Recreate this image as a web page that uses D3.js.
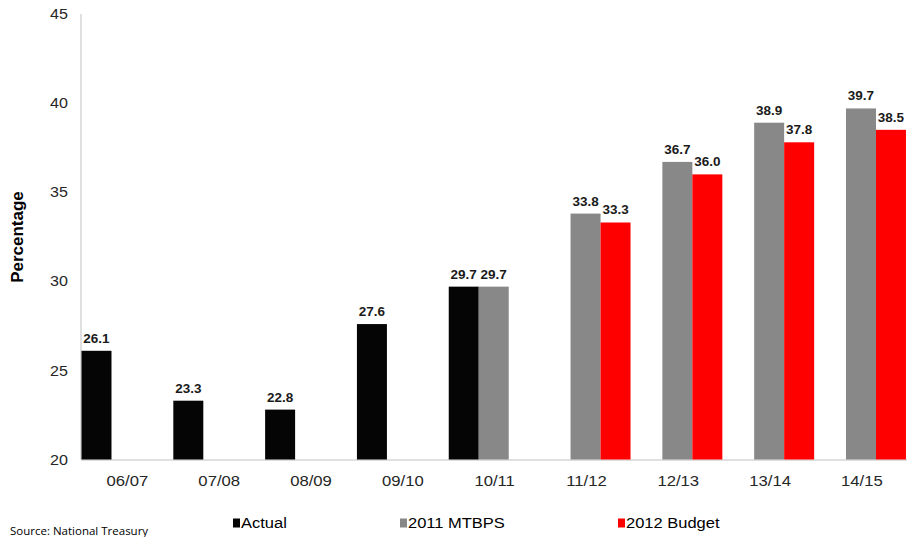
<!DOCTYPE html>
<html>
<head>
<meta charset="utf-8">
<script src="https://cdn.jsdelivr.net/npm/d3@7"></script>
<style>
  html, body { margin: 0; padding: 0; background: #ffffff; }
  svg { display: block; }
</style>
</head>
<body>
<svg id="chart" width="907" height="537"></svg>
<script>
// Fiscal years on the category axis
const categories = ["06/07", "07/08", "08/09", "09/10", "10/11", "11/12", "12/13", "13/14", "14/15"];

// Debt as a percentage of GDP, per series (null = no bar)
const actualValues = [26.1, 23.3, 22.8, 27.6, 29.7, null, null, null, null];
const mtbpsValues  = [null, null, null, null, 29.7, 33.8, 36.7, 38.9, 39.7];
const budgetValues = [null, null, null, null, null, 33.3, 36.0, 37.8, 38.5];

const seriesNames = ["Actual", "2011 MTBPS", "2012 Budget"];
const seriesColors = ["#050505", "#888888", "#ff0000"];
const seriesValues = [actualValues, mtbpsValues, budgetValues];

const yTicks = [20, 25, 30, 35, 40, 45];

const svg = d3.select("#chart");
const font = "'Liberation Sans', Arial, sans-serif";
const stretch = 1.15; // text is drawn slightly wide

const x = d3.scaleBand().domain(categories).range([81.5, 907.8]).paddingInner(0).paddingOuter(0);
const xs = d3.scaleBand().domain(seriesNames).range([0, x.bandwidth() * 0.98]).padding(0);
const y = d3.scaleLinear().domain([20, 45]).range([459.5, 14]);

// Axis lines
svg.append("line")
  .attr("x1", 81).attr("x2", 81)
  .attr("y1", y(45)).attr("y2", y(20))
  .attr("stroke", "#c0c0c0").attr("stroke-width", 1);
svg.append("line")
  .attr("x1", 81).attr("x2", 907)
  .attr("y1", y(20) + 0.5).attr("y2", y(20) + 0.5)
  .attr("stroke", "#c0c0c0").attr("stroke-width", 1);

// Y tick labels
svg.append("g").selectAll("text").data(yTicks).join("text")
  .attr("transform", d => `translate(68,${y(d)}) scale(${stretch},1)`)
  .attr("text-anchor", "end")
  .attr("dominant-baseline", "central")
  .attr("font-family", font).attr("font-size", 14)
  .attr("fill", "#262626")
  .text(d => d);

// Y axis title
svg.append("text")
  .attr("transform", "translate(23,237) rotate(-90)")
  .attr("text-anchor", "middle")
  .attr("font-family", font).attr("font-size", 17).attr("font-weight", "bold")
  .attr("fill", "#000")
  .text("Percentage");

// X category labels
svg.append("g").selectAll("text").data(categories).join("text")
  .attr("transform", d => `translate(${x(d) + x.bandwidth() / 2},486) scale(${stretch},1)`)
  .attr("text-anchor", "middle")
  .attr("font-family", font).attr("font-size", 14.5)
  .attr("fill", "#262626")
  .text(d => d);

// Bars and value labels
const barData = [];
seriesValues.forEach((vals, si) => {
  vals.forEach((v, ci) => {
    if (v !== null) barData.push({ cat: categories[ci], series: seriesNames[si], color: seriesColors[si], value: v });
  });
});

svg.append("g").selectAll("rect").data(barData).join("rect")
  .attr("x", d => x(d.cat) + xs(d.series))
  .attr("width", xs.bandwidth())
  .attr("y", d => y(d.value))
  .attr("height", d => y(20) - y(d.value))
  .attr("fill", d => d.color);

svg.append("g").selectAll("text").data(barData).join("text")
  .attr("transform", d => `translate(${x(d.cat) + xs(d.series) + xs.bandwidth() / 2},${y(d.value) - 8}) scale(1.08,1)`)
  .attr("text-anchor", "middle")
  .attr("font-family", font).attr("font-size", 12.5).attr("font-weight", "bold")
  .attr("fill", "#1a1a1a")
  .text(d => d3.format(".1f")(d.value));

// Legend
const legendX = [233, 400, 618];
const lg = svg.append("g").selectAll("g").data(seriesNames).join("g")
  .attr("transform", (d, i) => `translate(${legendX[i]},523)`);
lg.append("rect")
  .attr("x", 0).attr("y", -4.5).attr("width", 7).attr("height", 9)
  .attr("fill", (d, i) => seriesColors[i]);
lg.append("text")
  .attr("transform", `translate(8,0) scale(1.1,1)`)
  .attr("dominant-baseline", "central")
  .attr("font-family", font).attr("font-size", 15)
  .attr("fill", "#000")
  .text(d => d);

// Source note
svg.append("text")
  .attr("x", 10).attr("y", 535)
  .attr("font-family", "'Open Sans', Arial, sans-serif").attr("font-size", 11.5)
  .attr("fill", "#000")
  .text("Source: National Treasury");
</script>
</body>
</html>
